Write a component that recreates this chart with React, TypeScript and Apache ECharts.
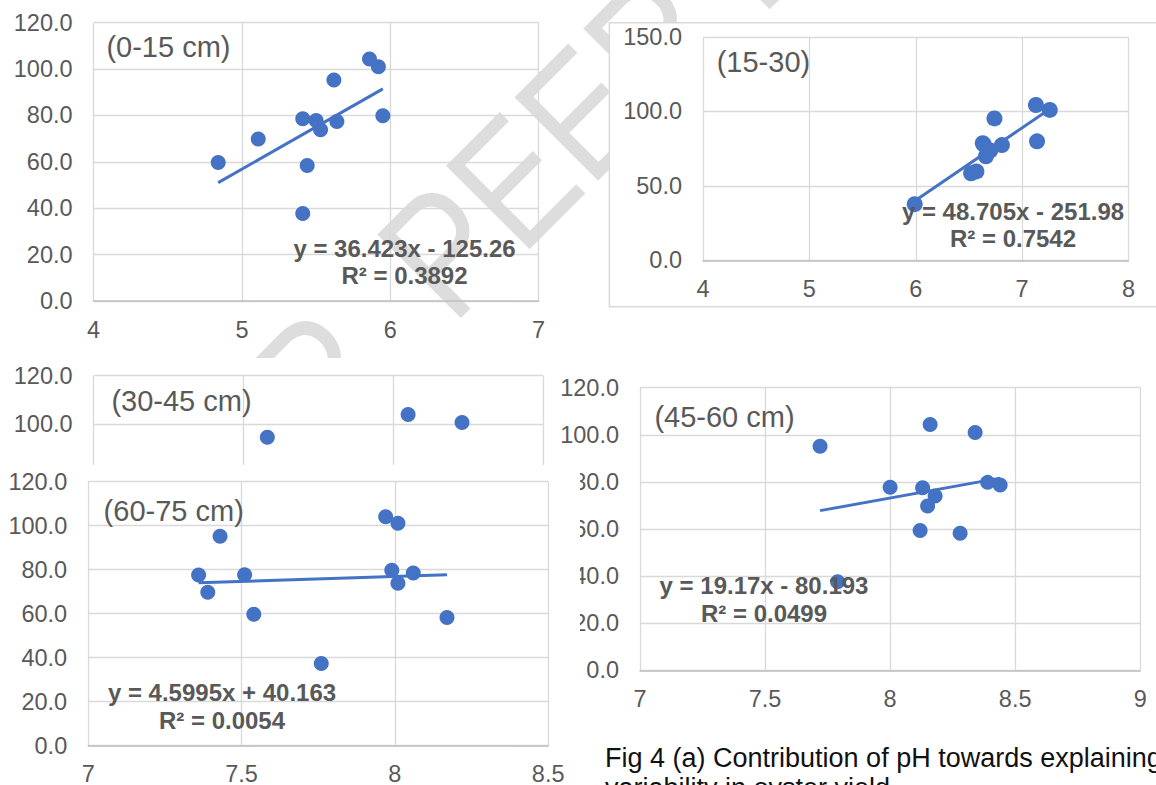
import React, { useEffect, useRef } from "react";
import * as echarts from "echarts";

// ---------------- data ----------------
const panelTitles = ["(0-15 cm)", "(15-30)", "(30-45 cm)", "(45-60 cm)", "(60-75 cm)"];

const ph0_15 = [4.84, 5.11, 5.41, 5.5, 5.53, 5.64, 5.62, 5.44, 5.41, 5.86, 5.92, 5.95];
const yield0_15 = [59.7, 69.9, 78.6, 77.8, 73.8, 77.4, 95.3, 58.4, 37.7, 104.3, 101.0, 79.9];

const ph15_30 = [5.99, 6.52, 6.57, 6.66, 6.7, 6.81, 6.64, 6.63, 7.14, 6.74, 7.26, 7.13];
const yield15_30 = [37.7, 58.4, 59.7, 69.9, 73.8, 77.4, 77.8, 78.6, 79.9, 95.3, 101.0, 104.3];

const ph30_45 = [7.58, 8.05, 8.23];
const yield30_45 = [94.7, 104.1, 100.8];

const ph45_60 = [7.72, 8.16, 8.34, 8.0, 8.13, 8.18, 8.15, 8.12, 8.28, 8.39, 8.44, 7.79];
const yield45_60 = [95.1, 104.4, 101.0, 77.7, 77.5, 74.0, 69.8, 59.4, 58.2, 79.8, 78.7, 37.6];

const ph60_75 = [7.36, 7.39, 7.43, 7.51, 7.54, 7.76, 7.97, 8.01, 7.99, 8.06, 8.01, 8.17];
const yield60_75 = [77.6, 69.8, 95.2, 77.7, 59.7, 37.4, 104.1, 101.1, 79.8, 78.5, 73.8, 58.3];

const trendSlopes = [36.423, 48.705, null, 19.17, 4.5995];
const trendIntercepts = [-125.26, -251.98, null, -80.193, 40.163];
const equationTexts = [
  ["y = 36.423x - 125.26", "R² = 0.3892"],
  ["y = 48.705x - 251.98", "R² = 0.7542"],
  null,
  ["y = 19.17x - 80.193", "R² = 0.0499"],
  ["y = 4.5995x + 40.163", "R² = 0.0054"],
];

// [min, max, interval]
const xAxisRanges = [[4, 7, 1], [4, 8, 1], [7, 8.5, 0.5], [7, 9, 0.5], [7, 8.5, 0.5]];
const yAxisRanges = [[0, 120, 20], [0, 150, 50], [0, 120, 20], [0, 120, 20], [0, 120, 20]];
// the (30-45 cm) panel is partly hidden under the (60-75 cm) panel: only these labels show
const visibleYLabels30_45 = [100, 120];

const captionLines = [
  "Fig 4 (a) Contribution of pH towards explaining",
  "variability in oyster yield",
];
const watermarkWords = ["UNDER", "PEER REVIEW"];

// ---------------- layout / style ----------------
const FONT = '"Liberation Sans", Arial, Helvetica, sans-serif';
const BLUE = "#4472C4";
const GREY_TEXT = "#595959";
const GRID_LINE = "#D9D9D9";

const gridBoxes = [
  { left: 93.6, top: 22.7, width: 445, height: 278.3 },
  { left: 703, top: 37, width: 425.5, height: 223.3 },
  { left: 93.6, top: 375.7, width: 449.3, height: 292 },
  { left: 640, top: 387.7, width: 500.2, height: 282.6 },
  { left: 88.2, top: 481.7, width: 460, height: 264 },
];
const titlePos = [[106.4, 47], [716.7, 61.7], [111.4, 401], [654.4, 416.7], [103.6, 511]];
const eqPos = [[404.5, 248.7, 275], [1013, 211.7, 238.3], null, [764, 585, 613.3], [222, 692.3, 720]];
const bgRects = [
  null,
  { x: 609.4, y: 22.7, w: 570, h: 284, stroke: true },
  { x: 0, y: 358, w: 556, h: 427, stroke: false },
  { x: 556, y: 368, w: 600, h: 417, stroke: false },
  { x: 0, y: 465, w: 580, h: 320, stroke: false },
];
const symbolSizes = [15, 16, 15, 15, 15];
// watermark anchors: "UNDER" right end, "PEER REVIEW" left start (rotated 45deg)
const watermarkAnchors = [
  { x: 354.8, y: 342.2, align: "right" },
  { x: 410.6, y: 284.4, align: "left" },
];

const panelXs = [ph0_15, ph15_30, ph30_45, ph45_60, ph60_75];
const panelYs = [yield0_15, yield15_30, yield30_45, yield45_60, yield60_75];

function buildOption() {
  const grids: any[] = [];
  const xAxes: any[] = [];
  const yAxes: any[] = [];
  const series: any[] = [];
  const graphics: any[] = [];

  // watermark (lowest layer)
  watermarkWords.forEach((w, k) => {
    const a = watermarkAnchors[k];
    graphics.push({
      type: "text",
      x: a.x,
      y: a.y,
      rotation: Math.PI / 4,
      scaleX: 0.845,
      scaleY: 1,
      z: 1,
      silent: true,
      style: {
        text: w,
        font: `172px ${FONT}`,
        fill: "#DDDDDD",
        textAlign: a.align,
        textVerticalAlign: "middle",
        verticalAlign: "middle",
      },
    });
  });

  for (let i = 0; i < 5; i++) {
    const base = 2 + 3 * i;
    const zBg = base;
    const zAxis = base + 1;
    const zSeries = base + 2;
    const g = gridBoxes[i];
    const hiddenPanel = i === 2;
    grids.push({
      left: g.left,
      top: g.top,
      width: g.width,
      height: g.height,
      containLabel: false,
      outerBoundsMode: "none",
    });
    const [xmin, xmax, xint] = xAxisRanges[i];
    const [ymin, ymax, yint] = yAxisRanges[i];
    xAxes.push({
      gridIndex: i,
      type: "value",
      min: xmin,
      max: xmax,
      interval: xint,
      z: zAxis,
      axisLine: { show: true, onZero: false, lineStyle: { color: "#BFBFBF", width: 1.5 } },
      axisTick: { show: false },
      splitLine: { show: true, showMinLine: true, showMaxLine: true, lineStyle: { color: GRID_LINE, width: 1.3 } },
      axisLabel: {
        show: !hiddenPanel,
        color: GREY_TEXT,
        fontSize: 23.5,
        fontFamily: FONT,
        margin: 16.5,
        showMinLabel: true,
        showMaxLabel: true,
      },
    });
    yAxes.push({
      gridIndex: i,
      type: "value",
      min: ymin,
      max: ymax,
      interval: yint,
      z: zAxis,
      axisLine: { show: false },
      axisTick: { show: false },
      splitLine: { show: true, showMinLine: true, showMaxLine: true, lineStyle: { color: GRID_LINE, width: 1.3 } },
      axisLabel: {
        color: GREY_TEXT,
        fontSize: 23.5,
        fontFamily: FONT,
        margin: 21,
        showMinLabel: true,
        showMaxLabel: true,
        formatter: (v: number) =>
          hiddenPanel && visibleYLabels30_45.indexOf(v) < 0 ? "" : v.toFixed(1),
      },
    });

    const xs = panelXs[i];
    const ys = panelYs[i];
    series.push({
      type: "scatter",
      xAxisIndex: i,
      yAxisIndex: i,
      z: zSeries,
      silent: true,
      symbol: "circle",
      symbolSize: symbolSizes[i],
      itemStyle: { color: BLUE, opacity: 1 },
      data: xs.map((x, j) => [x, ys[j]]),
    });
    const s = trendSlopes[i];
    const b = trendIntercepts[i];
    if (s !== null && b !== null) {
      const lo = Math.min(...xs);
      const hi = Math.max(...xs);
      series.push({
        type: "line",
        xAxisIndex: i,
        yAxisIndex: i,
        z: zSeries,
        silent: true,
        showSymbol: false,
        symbol: "none",
        lineStyle: { color: BLUE, width: 3 },
        data: [
          [lo, s * lo + b],
          [hi, s * hi + b],
        ],
      });
    }

    const bg = bgRects[i];
    if (bg) {
      graphics.push({
        type: "rect",
        z: zBg,
        silent: true,
        shape: { x: bg.x, y: bg.y, width: bg.w, height: bg.h },
        style: { fill: "#FFFFFF", stroke: bg.stroke ? GRID_LINE : null, lineWidth: bg.stroke ? 1.5 : 0 },
      });
    }

    const tp = titlePos[i];
    graphics.push({
      type: "text",
      x: tp[0],
      y: tp[1],
      z: zSeries,
      silent: true,
      style: {
        text: panelTitles[i],
        font: `29px ${FONT}`,
        fill: GREY_TEXT,
        textAlign: "left",
        textVerticalAlign: "middle",
        verticalAlign: "middle",
      },
    });

    const eq = equationTexts[i];
    const ep = eqPos[i];
    if (eq && ep) {
      eq.forEach((line, k) => {
        graphics.push({
          type: "text",
          x: ep[0],
          y: ep[1 + k],
          z: zSeries + 0.5,
          silent: true,
          style: {
            text: line,
            font: `bold 24px ${FONT}`,
            fill: GREY_TEXT,
            textAlign: "center",
            textVerticalAlign: "middle",
            verticalAlign: "middle",
          },
        });
      });
    }
  }

  // caption
  const capY = [757.6, 787.6];
  captionLines.forEach((line, k) => {
    graphics.push({
      type: "text",
      x: 605,
      y: capY[k],
      z: 20,
      silent: true,
      style: {
        text: line,
        font: `27px ${FONT}`,
        fill: "#111111",
        textAlign: "left",
        textVerticalAlign: "middle",
        verticalAlign: "middle",
      },
    });
  });

  return {
    animation: false,
    backgroundColor: "#FFFFFF",
    grid: grids,
    xAxis: xAxes,
    yAxis: yAxes,
    series,
    graphic: { elements: graphics },
  };
}

export default function App() {
  const ref = useRef<HTMLDivElement>(null);
  useEffect(() => {
    if (!ref.current) return;
    const chart = echarts.init(ref.current, null, { renderer: "svg" });
    chart.setOption(buildOption() as any);
    return () => {
      chart.dispose();
    };
  }, []);
  return (
    <div
      ref={ref}
      style={{ position: "fixed", left: 0, top: 0, width: 1156, height: 785, background: "#FFFFFF" }}
    />
  );
}
